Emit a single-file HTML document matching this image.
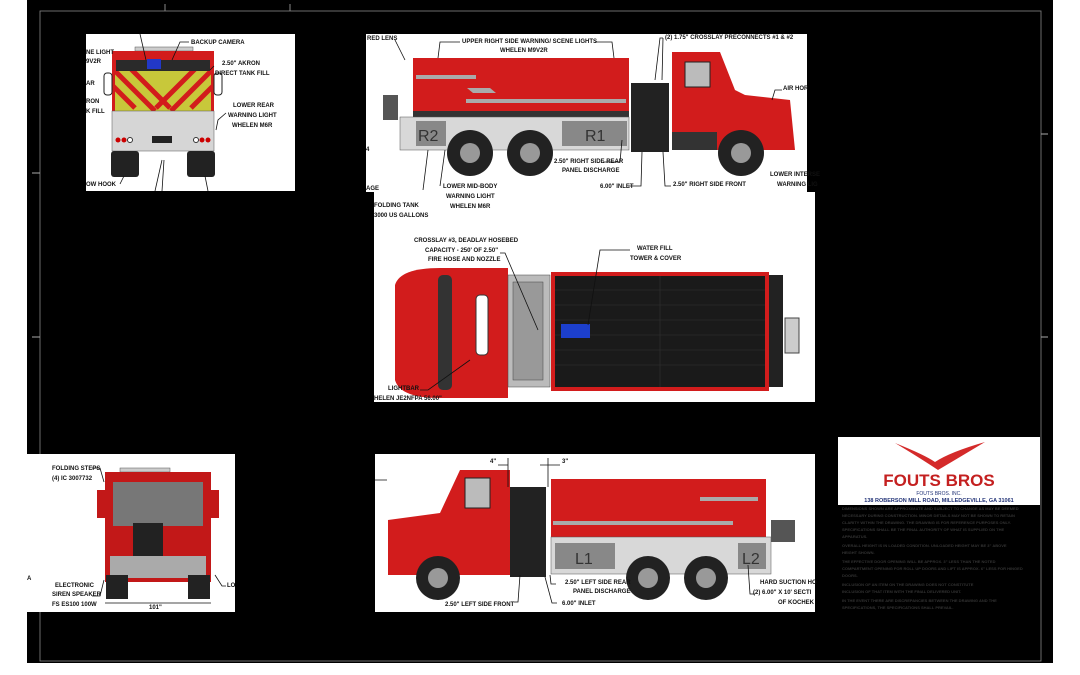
<!DOCTYPE html>
<html><head><meta charset="utf-8"><style>
html,body{margin:0;padding:0;background:#fff;width:1080px;height:675px;overflow:hidden}
svg{display:block}
text{font-family:"Liberation Sans",sans-serif;font-weight:bold;fill:#111}
.l{font-size:6px}
.s{fill:none;stroke:#111;stroke-width:0.8}
</style></head><body>
<svg width="1080" height="675" viewBox="0 0 1080 675" xmlns="http://www.w3.org/2000/svg">
<rect x="27" y="0" width="1026" height="663" fill="#000"/>
<rect x="40" y="11" width="1001" height="650" fill="none" stroke="#888" stroke-width="0.8"/>
<line x1="165" y1="4" x2="165" y2="11" stroke="#888"/><line x1="290" y1="4" x2="290" y2="11" stroke="#888"/>
<line x1="1041" y1="134" x2="1048" y2="134" stroke="#aaa"/><line x1="1041" y1="337" x2="1048" y2="337" stroke="#aaa"/>
<line x1="32" y1="337" x2="40" y2="337" stroke="#aaa"/><line x1="32" y1="173" x2="40" y2="173" stroke="#aaa"/>

<!-- Rear view panel -->
<rect x="86" y="34" width="209" height="157" fill="#fff"/>
<rect x="135" y="47" width="58" height="4" fill="#ccc" stroke="#555" stroke-width=".5"/>
<rect x="112" y="51" width="102" height="60" fill="#d21c1c"/>
<rect x="116" y="60" width="94" height="11" fill="#2a2a2a"/>
<rect x="147" y="59" width="14" height="10" fill="#2238c8"/>
<clipPath id="cv"><rect x="115" y="71" width="96" height="40"/></clipPath>
<g clip-path="url(#cv)"><rect x="115" y="71" width="96" height="40" fill="#c8c83a"/>
<g stroke="#d21c1c" stroke-width="5">
<line x1="105" y1="78" x2="135" y2="108"/><line x1="115" y1="71" x2="155" y2="111"/><line x1="130" y1="68" x2="170" y2="108"/>
<line x1="221" y1="78" x2="191" y2="108"/><line x1="211" y1="71" x2="171" y2="111"/><line x1="196" y1="68" x2="156" y2="108"/>
</g></g>
<rect x="104" y="73" width="8" height="22" rx="3" fill="#fff" stroke="#222"/>
<rect x="214" y="73" width="8" height="22" rx="3" fill="#fff" stroke="#222"/>
<rect x="112" y="111" width="102" height="40" fill="#d6d6d6" stroke="#555" stroke-width=".5"/>
<rect x="152" y="136" width="20" height="7" fill="#222"/>
<circle cx="118" cy="140" r="2.5" fill="#c00"/><circle cx="124" cy="140" r="2.5" fill="#c00"/><circle cx="130" cy="140" r="2.5" fill="#fff" stroke="#333"/>
<circle cx="196" cy="140" r="2.5" fill="#fff" stroke="#333"/><circle cx="202" cy="140" r="2.5" fill="#c00"/><circle cx="208" cy="140" r="2.5" fill="#c00"/>
<rect x="111" y="151" width="28" height="26" rx="3" fill="#222"/><rect x="187" y="151" width="28" height="26" rx="3" fill="#222"/>
<path class="s" d="M189,42 L180,42 L172,60 M140,34 L146,60 M120,184 L124,176 M155,191 L162,160 M162,191 L164,160 M208,191 L205,176 M226,113 L218,120 L216,130 M214,66 L210,70"/>
<text x="191" y="44" class="l">BACKUP CAMERA</text>
<text x="86" y="54" class="l">NE LIGHT</text><text x="86" y="63" class="l">9V2R</text>
<text x="86" y="85" class="l">AR</text><text x="86" y="103" class="l">RON</text><text x="86" y="113" class="l">K FILL</text>
<text x="222" y="65" class="l">2.50" AKRON</text><text x="215" y="75" class="l">DIRECT TANK FILL</text>
<text x="233" y="107" class="l">LOWER REAR</text><text x="228" y="117" class="l">WARNING LIGHT</text><text x="232" y="127" class="l">WHELEN M6R</text>
<text x="86" y="186" class="l">OW HOOK</text>

<!-- Side R + Top view panels -->
<rect x="366" y="34" width="441" height="158" fill="#fff"/>
<rect x="374" y="192" width="441" height="210" fill="#fff"/>
<rect x="413" y="58" width="216" height="53" fill="#d21c1c"/>
<rect x="416" y="75" width="60" height="4" fill="#aaa"/><rect x="466" y="99" width="160" height="4" fill="#aaa"/>
<polygon points="467,88 490,88 496,93 473,93" fill="#aaa"/>
<rect x="413" y="111" width="216" height="6" fill="#333"/>
<rect x="400" y="117" width="229" height="33" fill="#d8d8d8" stroke="#555" stroke-width=".5"/>
<rect x="416" y="121" width="30" height="25" fill="#888"/><text x="418" y="141" style="font-size:16px;font-weight:normal;fill:#333">R2</text>
<rect x="562" y="121" width="65" height="25" fill="#888"/><text x="585" y="141" style="font-size:16px;font-weight:normal;fill:#333">R1</text>
<rect x="383" y="95" width="15" height="25" fill="#555"/>
<rect x="631" y="83" width="38" height="69" fill="#222"/>
<polygon points="672,52 720,52 735,90 745,95 790,100 795,150 672,150" fill="#d21c1c"/>
<rect x="685" y="62" width="25" height="25" fill="#bbb" stroke="#222"/>
<rect x="672" y="132" width="45" height="18" fill="#333"/>
<circle cx="470" cy="153" r="23" fill="#222"/><circle cx="470" cy="153" r="10" fill="#999"/>
<circle cx="530" cy="153" r="23" fill="#222"/><circle cx="530" cy="153" r="10" fill="#999"/>
<circle cx="741" cy="153" r="23" fill="#222"/><circle cx="741" cy="153" r="10" fill="#999"/>
<path class="s" d="M460,42 L440,42 L438,58 M595,42 L612,42 L614,58 M663,38 L660,38 L655,80 M663,38 L662,80 M782,90 L775,90 L772,100 M603,162 L620,162 L622,140 M628,186 L641,186 L642,152 M671,186 L665,186 L663,152 M395,40 L405,60 M440,186 L445,150 M423,190 L428,150"/>
<text x="367" y="40" class="l">RED LENS</text>
<text x="462" y="43" class="l">UPPER RIGHT SIDE WARNING/ SCENE LIGHTS</text><text x="500" y="52" class="l">WHELEN M9V2R</text>
<text x="665" y="39" class="l">(2) 1.75" CROSSLAY PRECONNECTS #1 &amp; #2</text>
<text x="783" y="90" class="l">AIR HOR</text>
<text x="554" y="163" class="l">2.50" RIGHT SIDE REAR</text><text x="562" y="172" class="l">PANEL DISCHARGE</text>
<text x="600" y="188" class="l">6.00" INLET</text><text x="673" y="186" class="l">2.50" RIGHT SIDE FRONT</text>
<text x="770" y="176" class="l">LOWER INTERSE</text><text x="777" y="186" class="l">WARNING LIG</text>
<text x="443" y="188" class="l">LOWER MID-BODY</text><text x="446" y="198" class="l">WARNING LIGHT</text><text x="450" y="208" class="l">WHELEN M6R</text>
<text x="374" y="207" class="l">FOLDING TANK</text><text x="374" y="217" class="l">3000 US GALLONS</text>
<text x="366" y="151" class="l">4</text><text x="366" y="190" class="l">AGE</text>
<!-- top view -->
<path d="M395,285 Q400,268 440,268 L508,268 L508,398 L440,398 Q400,398 395,380 Z" fill="#d21c1c"/>
<rect x="438" y="275" width="14" height="115" rx="5" fill="#333"/>
<rect x="476" y="295" width="12" height="60" rx="4" fill="#fff" stroke="#333"/>
<rect x="508" y="275" width="42" height="112" fill="#bbb" stroke="#444" stroke-width=".5"/>
<rect x="513" y="282" width="30" height="98" fill="#999" stroke="#444" stroke-width=".5"/>
<rect x="551" y="272" width="218" height="119" fill="#d21c1c"/>
<rect x="555" y="276" width="210" height="111" fill="#1a1a1a"/>
<g stroke="#333" stroke-width=".6"><line x1="555" y1="290" x2="765" y2="290"/><line x1="555" y1="305" x2="765" y2="305"/><line x1="555" y1="320" x2="765" y2="320"/><line x1="555" y1="335" x2="765" y2="335"/><line x1="555" y1="350" x2="765" y2="350"/><line x1="555" y1="365" x2="765" y2="365"/><line x1="660" y1="276" x2="660" y2="387"/></g>
<rect x="561" y="324" width="29" height="14" fill="#1c3fcc"/>
<rect x="769" y="275" width="14" height="112" fill="#222"/>
<rect x="785" y="318" width="14" height="35" fill="#ccc" stroke="#444"/>
<path class="s" d="M500,253 L505,253 L538,330 M630,250 L600,250 L588,325 M420,390 L428,390 L470,360"/>
<text x="414" y="242" class="l">CROSSLAY #3, DEADLAY HOSEBED</text><text x="425" y="252" class="l">CAPACITY - 250' OF 2.50"</text><text x="428" y="261" class="l">FIRE HOSE AND NOZZLE</text>
<text x="637" y="250" class="l">WATER FILL</text><text x="630" y="260" class="l">TOWER &amp; COVER</text>
<text x="388" y="390" class="l">LIGHTBAR</text><text x="374" y="400" class="l">HELEN JE2NFPA 56.00"</text>

<!-- Front view -->
<rect x="26" y="454" width="209" height="158" fill="#fff"/>
<rect x="120" y="468" width="50" height="4" fill="#ccc" stroke="#555" stroke-width=".5"/>
<rect x="105" y="472" width="106" height="110" fill="#c21818"/>
<rect x="113" y="482" width="90" height="44" fill="#777"/>
<rect x="97" y="490" width="8" height="28" fill="#c21818"/><rect x="211" y="490" width="8" height="28" fill="#c21818"/>
<rect x="133" y="523" width="30" height="38" fill="#222"/>
<rect x="110" y="556" width="96" height="22" fill="#aaa"/>
<rect x="106" y="575" width="22" height="24" fill="#222"/><rect x="188" y="575" width="22" height="24" fill="#222"/>
<path class="s" d="M92,468 L100,468 L104,482 M92,596 L100,596 L104,580 M226,586 L222,586 L215,575 M105,603 L211,603"/>
<text x="52" y="470" class="l">FOLDING STEPS</text><text x="52" y="480" class="l">(4) IC 3007732</text>
<text x="55" y="587" class="l">ELECTRONIC</text><text x="52" y="596" class="l">SIREN SPEAKER</text><text x="52" y="606" class="l">FS ES100 100W</text>
<text x="149" y="609" class="l">101"</text><text x="227" y="587" class="l">LO</text><text x="27" y="580" class="l">A</text>

<!-- Side L -->
<rect x="375" y="454" width="440" height="158" fill="#fff"/>
<polygon points="388,520 440,513 460,470 510,470 510,575 388,575" fill="#d21c1c"/>
<rect x="465" y="478" width="25" height="30" fill="#bbb" stroke="#222"/>
<rect x="510" y="487" width="36" height="90" fill="#222"/>
<rect x="551" y="479" width="215" height="58" fill="#d21c1c"/>
<rect x="553" y="521" width="180" height="4" fill="#aaa"/><rect x="700" y="497" width="58" height="4" fill="#aaa"/>
<rect x="551" y="537" width="220" height="37" fill="#d8d8d8" stroke="#555" stroke-width=".5"/>
<rect x="555" y="543" width="60" height="26" fill="#888"/><text x="575" y="564" style="font-size:16px;font-weight:normal;fill:#333">L1</text>
<rect x="738" y="543" width="28" height="26" fill="#888"/><text x="742" y="564" style="font-size:16px;font-weight:normal;fill:#333">L2</text>
<rect x="771" y="520" width="24" height="22" fill="#555"/>
<circle cx="438" cy="578" r="22" fill="#222"/><circle cx="438" cy="578" r="10" fill="#999"/>
<circle cx="648" cy="578" r="22" fill="#222"/><circle cx="648" cy="578" r="10" fill="#999"/>
<circle cx="706" cy="578" r="22" fill="#222"/><circle cx="706" cy="578" r="10" fill="#999"/>
<path class="s" d="M508,458 L508,487 M548,458 L548,487 M498,465 L508,465 M548,465 L540,465 M560,465 L548,465 M514,602 L518,602 L520,575 M557,603 L552,603 L545,577 M556,584 L551,584 L550,575 M755,594 L750,594 L748,565 M375,480 L387,480"/>
<text x="490" y="463" class="l">4"</text><text x="562" y="463" class="l">3"</text>
<text x="565" y="584" class="l">2.50" LEFT SIDE REAR</text><text x="573" y="593" class="l">PANEL DISCHARGE</text>
<text x="562" y="605" class="l">6.00" INLET</text><text x="445" y="606" class="l">2.50" LEFT SIDE FRONT</text>
<text x="760" y="584" class="l">HARD SUCTION HO</text><text x="753" y="594" class="l">(2) 6.00" X 10' SECTI</text><text x="778" y="604" class="l">OF KOCHEK</text>

<!-- Logo -->
<rect x="838" y="437" width="202" height="68" fill="#fff"/>
<path d="M895,443 Q925,455 935,462 Q950,452 985,442 Q955,460 938,470 Q920,458 895,443 Z" fill="#d42a2a"/>
<text x="939" y="486" text-anchor="middle" style="font-size:17px;fill:#c42020">FOUTS BROS</text>
<text x="939" y="495" text-anchor="middle" style="font-size:5px;font-weight:normal;fill:#223377">FOUTS BROS. INC.</text>
<text x="939" y="502" text-anchor="middle" style="font-size:5.5px;fill:#223377">138 ROBERSON MILL ROAD, MILLEDGEVILLE, GA 31061</text>
<g style="font-size:4px;font-weight:normal">
<text x="842" y="510" style="fill:#333">DIMENSIONS SHOWN ARE APPROXIMATE AND SUBJECT TO CHANGE AS MAY BE DEEMED</text>
<text x="842" y="517" style="fill:#333">NECESSARY DURING CONSTRUCTION. MINOR DETAILS MAY NOT BE SHOWN TO RETAIN</text>
<text x="842" y="524" style="fill:#333">CLARITY WITHIN THE DRAWING. THE DRAWING IS FOR REFERENCE PURPOSES ONLY.</text>
<text x="842" y="531" style="fill:#333">SPECIFICATIONS SHALL BE THE FINAL AUTHORITY OF WHAT IS SUPPLIED ON THE</text>
<text x="842" y="538" style="fill:#333">APPARATUS.</text>
<text x="842" y="547" style="fill:#333">OVERALL HEIGHT IS IN LOADED CONDITION. UNLOADED HEIGHT MAY BE 3" ABOVE</text>
<text x="842" y="554" style="fill:#333">HEIGHT SHOWN.</text>
<text x="842" y="563" style="fill:#333">THE EFFECTIVE DOOR OPENING WILL BE APPROX. 3" LESS THAN THE NOTED</text>
<text x="842" y="570" style="fill:#333">COMPARTMENT OPENING FOR ROLL UP DOORS AND LIFT IS APPROX. 6" LESS FOR HINGED</text>
<text x="842" y="577" style="fill:#333">DOORS.</text>
<text x="842" y="586" style="fill:#333">INCLUSION OF AN ITEM ON THE DRAWING DOES NOT CONSTITUTE</text>
<text x="842" y="593" style="fill:#333">INCLUSION OF THAT ITEM WITH THE FINAL DELIVERED UNIT.</text>
<text x="842" y="602" style="fill:#333">IN THE EVENT THERE ARE DISCREPANCIES BETWEEN THE DRAWING AND THE</text>
<text x="842" y="609" style="fill:#333">SPECIFICATIONS, THE SPECIFICATIONS SHALL PREVAIL.</text>
</g>
</svg>
</body></html>
